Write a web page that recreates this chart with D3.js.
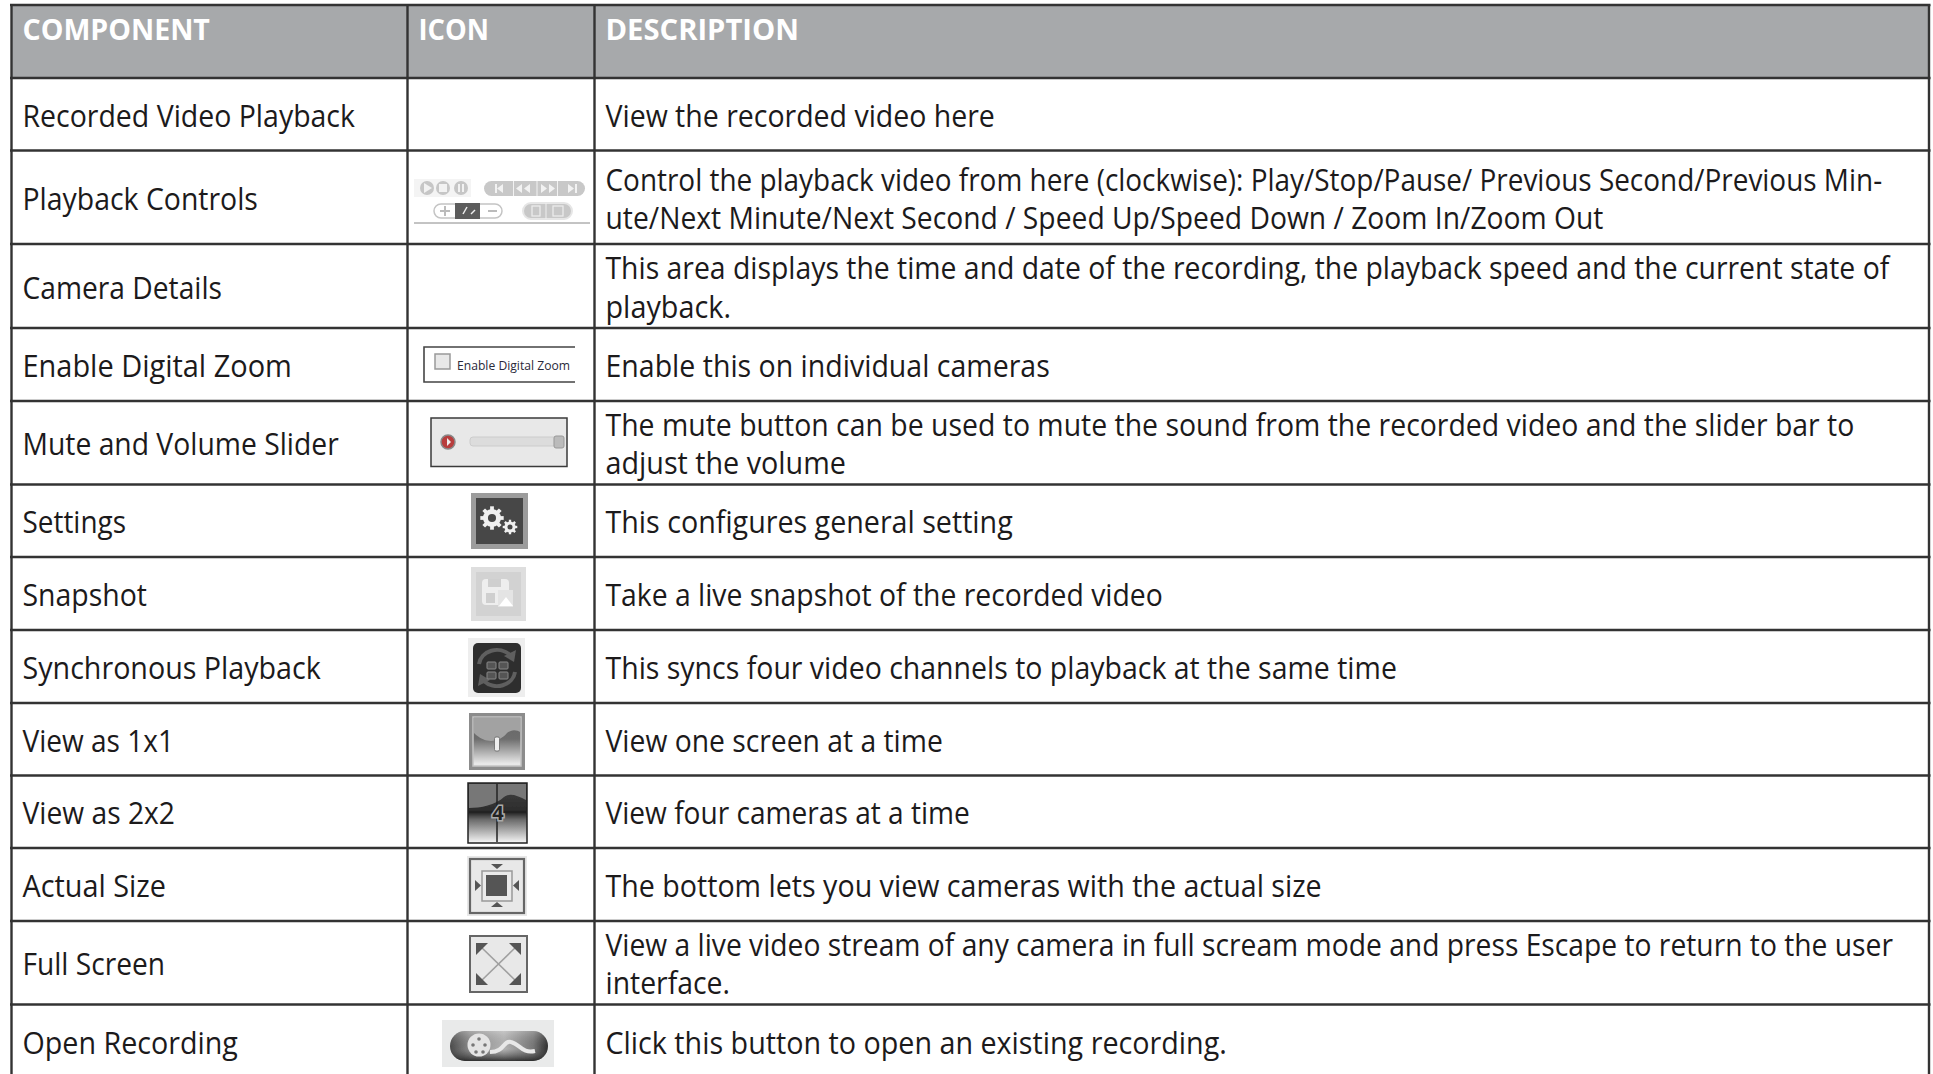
<!DOCTYPE html>
<html>
<head>
<meta charset="utf-8">
<script src="https://cdn.jsdelivr.net/npm/d3@7"></script>
<style>
  html, body { margin: 0; padding: 0; background: #fff; overflow: hidden; }
  text { font-family: "Open Sans", sans-serif; fill: #231f20; }
</style>
</head>
<body>
<div id="chart"></div>
<script>
// table content
const headers = ["COMPONENT", "ICON", "DESCRIPTION"];
const components = ["Recorded Video Playback", "Playback Controls", "Camera Details", "Enable Digital Zoom",
  "Mute and Volume Slider", "Settings", "Snapshot", "Synchronous Playback", "View as 1x1", "View as 2x2",
  "Actual Size", "Full Screen", "Open Recording"];
const icons = [null, "controls", null, "zoom", "mute", "settings", "snapshot", "sync", "view1", "view4", "actual", "full", "open"];
const descriptions = [
  ["View the recorded video here"],
  ["Control the playback video from here (clockwise): Play/Stop/Pause/ Previous Second/Previous Min-",
   "ute/Next Minute/Next Second / Speed Up/Speed Down / Zoom In/Zoom Out"],
  ["This area displays the time and date of the recording, the playback speed and the current state of",
   "playback."],
  ["Enable this on individual cameras"],
  ["The mute button can be used to mute the sound from the recorded video and the slider bar to",
   "adjust the volume"],
  ["This configures general setting"],
  ["Take a live snapshot of the recorded video"],
  ["This syncs four video channels to playback at the same time"],
  ["View one screen at a time"],
  ["View four cameras at a time"],
  ["The bottom lets you view cameras with the actual size"],
  ["View a live video stream of any camera in full scream mode and press Escape to return to the user",
   "interface."],
  ["Click this button to open an existing recording."]
];

// layout of the grid, measured in page pixels
const width = 1933, height = 1074;
const colEdges = [11.5, 407.5, 594.5, 1929];
const rowEdges = [5, 78, 150.5, 244, 328, 401, 484.5, 557, 630, 703, 775.5, 848, 921, 1004.5, 1080];
const bodySize = 30.5, headSize = 29, lineGap = 38.3, pad = 11;

// where each text line ends in the page, the installed face is wider than the original one
const headEnds = [210, 489, 799];
const componentEnds = [355, 258, 222, 292, 339, 126, 147, 321, 174, 175, 166, 165, 238];
const descriptionEnds = [[995], [1882.5, 1604], [1890, 731], [1050], [1855, 846], [1013], [1163], [1397], [943], [970], [1322], [1894, 730], [1227]];

const svg = d3.select("#chart").append("svg")
  .attr("width", width).attr("height", height)
  .style("display", "block");

const defs = svg.append("defs");
defs.append("filter").attr("id", "soft").append("feGaussianBlur").attr("stdDeviation", 0.6);

function gradient(id, stops, vertical = true){
  const g = defs.append("linearGradient").attr("id", id)
    .attr("x1", 0).attr("y1", 0).attr("x2", vertical ? 0 : 1).attr("y2", vertical ? 1 : 0);
  stops.forEach(s => g.append("stop").attr("offset", s[0]).attr("stop-color", s[1]));
}
gradient("view1Grad", [[0, "#666"], [0.45, "#6e6e6e"], [0.95, "#e8e8e8"]]);
gradient("view4Grad", [[0, "#444"], [0.5, "#2a2a2a"], [0.6, "#666"], [0.98, "#f0f0f0"]]);
gradient("openGrad", [[0, "#4a4a4a"], [0.2, "#8a8a8a"], [0.55, "#b4b4b4"], [0.85, "#777"], [1, "#2e2e2e"]], false);
gradient("openShade", [[0, "rgba(255,255,255,0.25)"], [0.6, "rgba(80,80,80,0)"], [1, "rgba(30,30,30,0.85)"]]);

const rowY = d3.scaleOrdinal(d3.range(rowEdges.length), rowEdges);
const colX = d3.scaleOrdinal(d3.range(colEdges.length), colEdges);

// header band
svg.append("rect")
  .attr("x", colX(0)).attr("y", rowY(0))
  .attr("width", colX(3) - colX(0)).attr("height", rowY(1) - rowY(0))
  .attr("fill", "#a7a9ab");

// squeeze a line so it stops where it does in the page
function putText(x, y, str, end, size, weight, fill){
  const t = svg.append("text")
    .attr("font-size", size)
    .attr("font-weight", weight)
    .style("fill", fill)
    .text(str);
  const sx = (end - x) / t.node().getComputedTextLength();
  t.attr("transform", `translate(${x},${y}) scale(${sx},1)`);
}

headers.forEach((h, i) => {
  putText(colX(i) + pad, 40, h, headEnds[i], headSize, 700, "#fff");
});

components.forEach((c, i) => {
  const mid = (rowY(i + 1) + rowY(i + 2)) / 2;
  const cy = i == components.length - 1 ? 1041.5 : mid;
  putText(colX(0) + pad, cy + 12.5, c, componentEnds[i], bodySize, 400, "#1c1a1b");
  const lines = descriptions[i];
  lines.forEach((l, j) => {
    const ly = cy + 12.5 + (j - (lines.length - 1) / 2) * lineGap;
    putText(colX(2) + pad, ly, l, descriptionEnds[i][j], bodySize, 400, "#1c1a1b");
  });
});

// grid lines
svg.append("g").selectAll("line").data(rowEdges.slice(0, -1)).join("line")
  .attr("x1", colX(0) - 1.5).attr("x2", colX(3) + 1.5)
  .attr("y1", d => d).attr("y2", d => d)
  .attr("stroke", "#333").attr("stroke-width", 2.4);
svg.append("g").selectAll("line").data(colEdges).join("line")
  .attr("x1", d => d).attr("x2", d => d)
  .attr("y1", rowY(0)).attr("y2", height)
  .attr("stroke", "#333").attr("stroke-width", 2.4);

// icons, each one is drawn in page pixels inside its own group
const iconLayer = svg.append("g").attr("filter", "url(#soft)");

function box(x, y, w, h, fill, stroke, sw, rx){
  return iconLayer.append("rect").attr("x", x).attr("y", y).attr("width", w).attr("height", h)
    .attr("fill", fill).attr("stroke", stroke || "none").attr("stroke-width", sw || 0).attr("rx", rx || 0);
}
function poly(points, fill){
  return iconLayer.append("path").attr("d", "M" + points.map(p => p.join(",")).join("L") + "Z").attr("fill", fill);
}
function circle(x, y, r, fill, stroke, sw){
  return iconLayer.append("circle").attr("cx", x).attr("cy", y).attr("r", r)
    .attr("fill", fill).attr("stroke", stroke || "none").attr("stroke-width", sw || 0);
}
function seg(x1, y1, x2, y2, stroke, sw){
  return iconLayer.append("line").attr("x1", x1).attr("y1", y1).attr("x2", x2).attr("y2", y2)
    .attr("stroke", stroke).attr("stroke-width", sw);
}
function gear(cx, cy, r, teeth, fill, hole){
  circle(cx, cy, r, fill);
  d3.range(teeth).forEach(i => {
    const a = i / teeth * 2 * Math.PI;
    seg(cx + Math.cos(a) * r * 0.8, cy + Math.sin(a) * r * 0.8, cx + Math.cos(a) * r * 1.3, cy + Math.sin(a) * r * 1.3, fill, r * 0.42);
  });
  circle(cx, cy, r * 0.45, hole);
}
function arrow(x, dir, y, c){
  poly([[x, y - 4.5], [x, y + 4.5], [x + dir * 6, y]], c);
}

const draw = {
  controls(){
    box(414, 179, 57, 18, "#f4f4f4");
    [427, 443, 461].forEach(x => circle(x, 188, 7, "#c6c6c6"));
    poly([[424, 183], [424, 193], [432, 188]], "#f2f2f2");
    box(439, 184, 8, 8, "#f2f2f2");
    box(458, 184, 2, 8, "#f2f2f2"); box(462, 184, 2, 8, "#f2f2f2");
    box(484, 181, 101, 15, "#c8c8c8", null, 0, 7.5);
    [513.5, 537, 557.5].forEach(x => seg(x, 181, x, 196, "#f2f2f2", 1));
    box(495, 184, 2, 9, "#f2f2f2"); arrow(503, -1, 188.5, "#f2f2f2");
    arrow(522, -1, 188.5, "#f2f2f2"); arrow(530, -1, 188.5, "#f2f2f2");
    arrow(541, 1, 188.5, "#f2f2f2"); arrow(549, 1, 188.5, "#f2f2f2");
    arrow(568, 1, 188.5, "#f2f2f2"); box(575, 184, 2, 9, "#f2f2f2");
    box(434, 204, 68, 14, "#fff", "#c4c4c4", 1.5, 7);
    box(455, 203, 25, 16, "#5c5c5c");
    seg(463, 214, 467, 207, "#eee", 1.5); seg(471, 214, 475, 210, "#eee", 1.5);
    seg(440, 211, 450, 211, "#bbb", 2); seg(445, 206, 445, 216, "#bbb", 2);
    seg(488, 211, 497, 211, "#bbb", 2);
    box(523, 203, 49, 16, "#c8c8c8", "#e6e6e6", 2, 8);
    seg(546, 203, 546, 219, "#eee", 1);
    box(532, 206, 8, 10, "none", "#eee", 1.2); box(553, 206, 10, 10, "none", "#eee", 1.2);
    seg(414, 223, 590, 223, "#888", 1);
  },
  zoom(){
    iconLayer.append("path").attr("d", "M575 347 L424 347 L424 382 L575 382")
      .attr("fill", "none").attr("stroke", "#444").attr("stroke-width", 1.6);
    box(435, 354, 15, 15, "#e8e8e8", "#999", 1.5);
    svg.append("text").attr("x", 457).attr("y", 370).attr("font-size", 12.5)
      .attr("textLength", 113).attr("lengthAdjust", "spacingAndGlyphs").style("fill", "#2a2a3a").text("Enable Digital Zoom");
  },
  mute(){
    box(431, 418, 136, 48.5, "#e8e8e8", "#3a3a3a", 1.5);
    circle(448, 442, 7, "#b83c3c", "#888", 1.5);
    poly([[447, 438], [447, 446], [451, 442]], "#eee");
    box(470, 437, 92, 9, "#dcdcdc", "#ccc", 1, 3);
    box(554, 436, 10, 12, "#bbb", "#999", 1, 2);
  },
  settings(){
    box(471, 493, 57, 56, "#9c9c9c");
    box(476, 498, 47, 46, "#474747");
    gear(492, 518, 9, 8, "#f0f0f0", "#474747");
    gear(510, 527, 5.6, 8, "#f0f0f0", "#474747");
  },
  snapshot(){
    box(471, 567, 55, 54, "#dedede");
    box(476, 572, 45, 44, "#d2d2d2");
    box(482, 579, 27, 26, "#eee", null, 0, 4);
    box(488, 579, 13, 8, "#cfcfcf");
    box(486, 593, 9, 10, "#cfcfcf");
    box(498, 590, 15, 17, "#e4e4e4");
    poly([[499, 606], [506, 597], [513, 606]], "#fff");
  },
  sync(){
    box(468, 638, 57, 59, "#eeeeee");
    box(473, 643, 48, 50, "#2f2f2f", null, 0, 5);
    iconLayer.append("path").attr("d", "M479 664 A18 16 0 0 1 510 655 M515 672 A18 16 0 0 1 484 681")
      .attr("fill", "none").attr("stroke", "#5f5f5f").attr("stroke-width", 4);
    poly([[516, 650], [514, 662], [504, 656]], "#5f5f5f");
    poly([[478, 686], [480, 674], [490, 680]], "#5f5f5f");
    [[487, 662], [499, 662], [487, 672], [499, 672]].forEach(p => box(p[0], p[1], 9, 7, "#555", "#888", 1, 1));
  },
  view1(){
    box(469, 713, 56, 57, "#8c8c8c");
    box(473, 717, 48, 49, "url(#view1Grad)", "#c4c4c4", 1.5);
    iconLayer.append("path").attr("d", "M474 733 C486 745 500 742 507 733 C512 729 517 730 520 732 L520 718 L474 718Z").attr("fill", "#a2a2a2");
    box(494.5, 737, 5, 14, "#eee", "#666", 0.8, 1.5);
  },
  view4(){
    box(468, 783, 59, 60, "url(#view4Grad)", "#222", 1.5);
    iconLayer.append("path").attr("d", "M469 800 L469 784 L526 784 L526 800 C516 795 510 793 504 797 C496 805 480 808 469 808Z").attr("fill", "#777");
    seg(497, 784, 497, 842, "#222", 1.5);
    seg(469, 812, 526, 812, "#222", 1.5);
    svg.append("text").attr("x", 498).attr("y", 820).attr("text-anchor", "middle").attr("font-size", 20)
      .attr("font-weight", 700).style("fill", "#222").style("stroke", "#aaa").style("stroke-width", 3)
      .style("paint-order", "stroke").text("4");
  },
  actual(){
    box(467, 856, 60, 60, "#e8e8e8");
    box(470, 859, 54, 54, "none", "#666", 2.2);
    box(482, 871, 30, 30, "#eaeaea", "#999", 1.5);
    box(486, 875, 21, 21, "#555");
    poly([[491, 864], [503, 864], [497, 869]], "#555");
    poly([[491, 907], [503, 907], [497, 902]], "#555");
    poly([[475, 880], [475, 891], [481, 885.5]], "#555");
    poly([[519, 880], [519, 891], [513, 885.5]], "#555");
  },
  full(){
    box(470, 936, 57, 56, "#e8e8e8", "#666", 2);
    seg(480, 946, 517, 982, "#a0a0a0", 1.6);
    seg(517, 946, 480, 982, "#a0a0a0", 1.6);
    poly([[476, 943], [488, 943], [476, 955]], "#555");
    poly([[521, 943], [509, 943], [521, 955]], "#555");
    poly([[476, 985], [488, 985], [476, 973]], "#555");
    poly([[521, 985], [509, 985], [521, 973]], "#555");
  },
  open(){
    box(442, 1020, 112, 47, "#e9eaea");
    box(450, 1031, 98, 30, "url(#openGrad)", null, 0, 15);
    box(450, 1031, 98, 30, "url(#openShade)", null, 0, 15);
    iconLayer.append("path").attr("d", "M490 1052 C505 1052 503 1040 511 1042 C520 1044 522 1054 535 1051")
      .attr("fill", "none").attr("stroke", "#e8e8e8").attr("stroke-width", 4);
    circle(479, 1045, 11.5, "#e4e4e4");
    [[479, 1039], [473, 1045], [485, 1045], [476, 1052], [483, 1052]].forEach(p => circle(p[0], p[1], 1.8, "#777"));
  }
};
icons.forEach(k => { if (k) draw[k](); });
</script>
</body>
</html>
